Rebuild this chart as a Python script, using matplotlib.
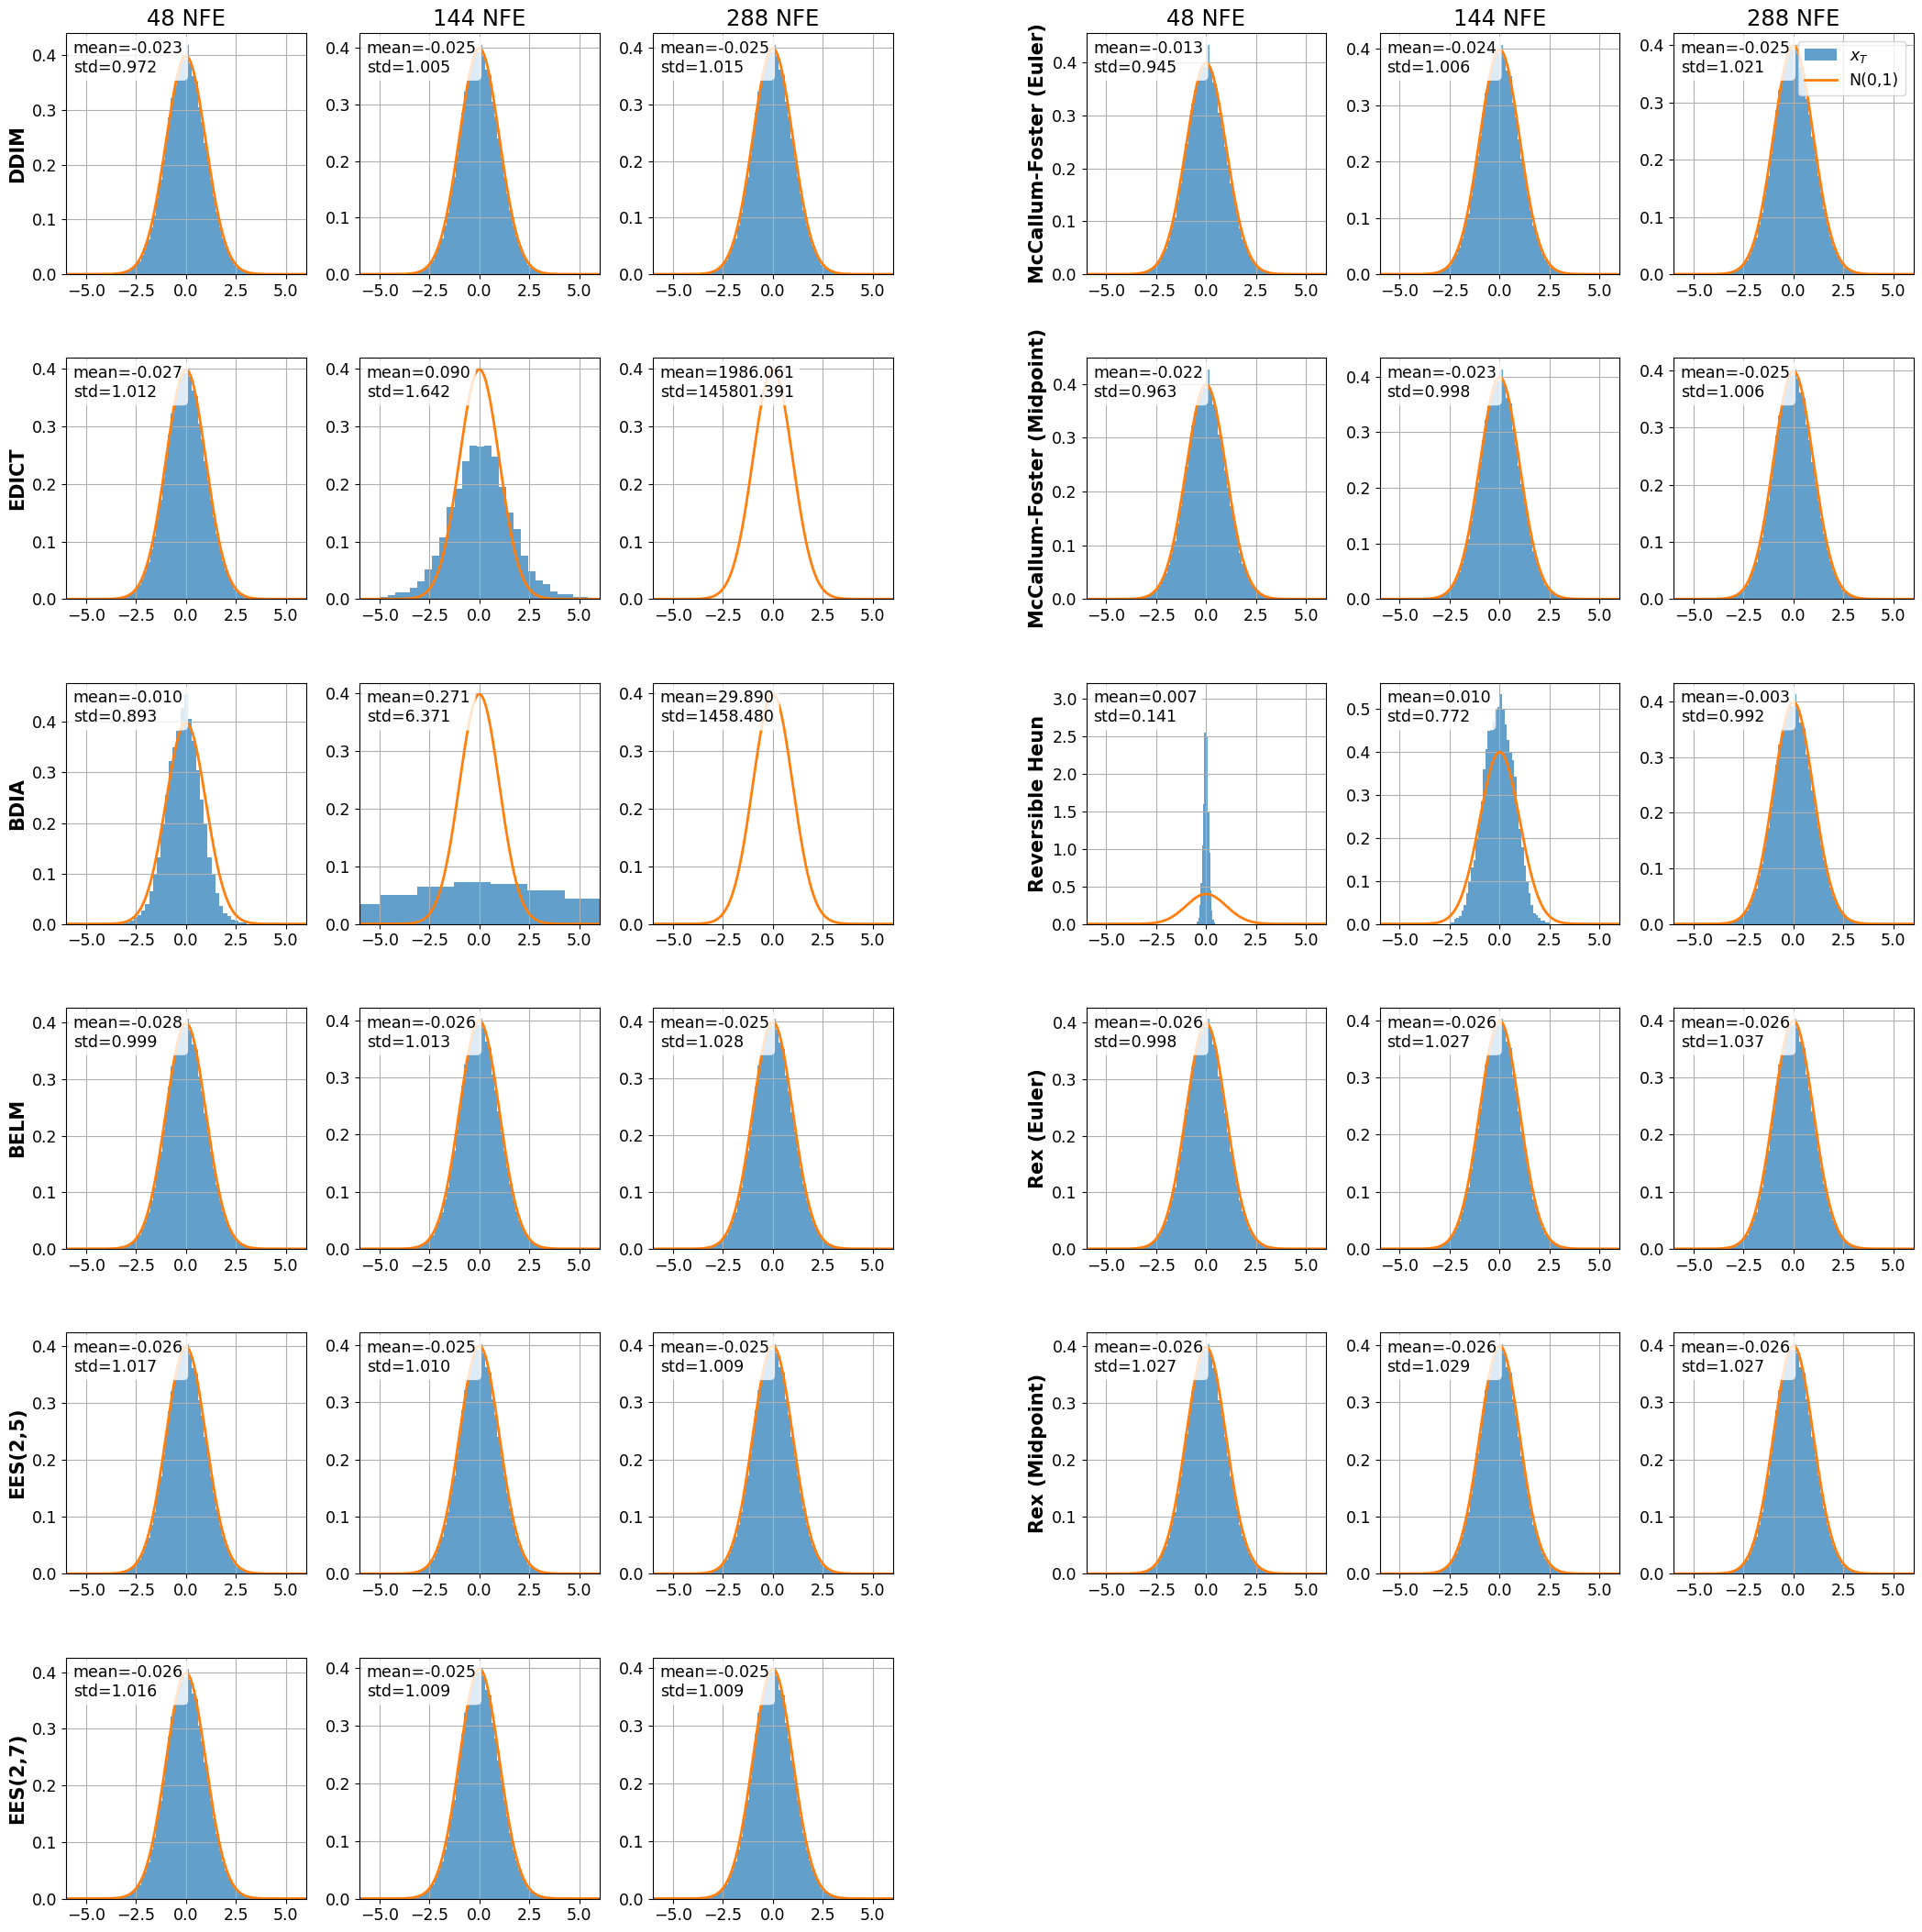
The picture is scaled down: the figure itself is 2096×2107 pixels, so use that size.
import numpy as np
import matplotlib
matplotlib.use('Agg')
import matplotlib.pyplot as plt

# ---------------- data ----------------
nfe_labels = ['48 NFE', '144 NFE', '288 NFE']
left_methods = ['DDIM', 'EDICT', 'BDIA', 'BELM', 'EES(2,5)', 'EES(2,7)']
right_methods = ['McCallum-Foster (Euler)', 'McCallum-Foster (Midpoint)',
                 'Reversible Heun', 'Rex (Euler)', 'Rex (Midpoint)']

left_means = [[-0.023, -0.025, -0.025],
              [-0.027, 0.090, 1986.061],
              [-0.010, 0.271, 29.890],
              [-0.028, -0.026, -0.025],
              [-0.026, -0.025, -0.025],
              [-0.026, -0.025, -0.025]]
left_stds = [[0.972, 1.005, 1.015],
             [1.012, 1.642, 145801.391],
             [0.893, 6.371, 1458.480],
             [0.999, 1.013, 1.028],
             [1.017, 1.010, 1.009],
             [1.016, 1.009, 1.009]]
right_means = [[-0.013, -0.024, -0.025],
               [-0.022, -0.023, -0.025],
               [0.007, 0.010, -0.003],
               [-0.026, -0.026, -0.026],
               [-0.026, -0.026, -0.026]]
right_stds = [[0.945, 1.006, 1.021],
              [0.963, 0.998, 1.006],
              [0.141, 0.772, 0.992],
              [0.998, 1.027, 1.037],
              [1.027, 1.029, 1.027]]

# typical near-N(0,1) histogram (bin width 0.15, from -3.6 to 3.6)
std_first_edge = -3.6
std_bin_width = 0.15
std_left = [0.001, 0.002, 0.003, 0.004, 0.006, 0.009, 0.012, 0.017, 0.024, 0.036,
            0.048, 0.064, 0.086, 0.108, 0.140, 0.172, 0.210, 0.246, 0.286, 0.322,
            0.346, 0.372, 0.384, 0.392]
std_right = [0.386, 0.362, 0.352, 0.305, 0.278, 0.240, 0.206, 0.172, 0.142, 0.114,
             0.086, 0.066, 0.050, 0.036, 0.026, 0.017, 0.012, 0.008, 0.005, 0.003,
             0.002, 0.001, 0.001]
# tallest (central) bar of each typical panel; None = special / empty panel
left_peaks = [[0.420, 0.406, 0.406],
              [0.395, None, None],
              [None, None, None],
              [0.406, 0.402, 0.404],
              [0.404, 0.402, 0.402],
              [0.406, 0.396, 0.396]]
right_peaks = [[0.434, 0.408, 0.401],
               [0.427, 0.413, 0.402],
               [None, None, 0.413],
               [0.406, 0.402, 0.402],
               [0.404, 0.402, 0.402]]

# special histograms: (first bin edge, bin width, heights)
edict_144 = (-6.06, 0.37,
             [0.001, 0.001, 0.002, 0.003, 0.007, 0.011, 0.011, 0.020, 0.031, 0.051,
              0.076, 0.107, 0.159, 0.192, 0.240, 0.266, 0.265, 0.266, 0.247, 0.195,
              0.150, 0.121, 0.076, 0.049, 0.033, 0.026, 0.014, 0.008, 0.008, 0.004,
              0.004, 0.002, 0.002])
bdia_48 = (-3.21, 0.195,
           [0.001, 0.003, 0.007, 0.013, 0.018, 0.026, 0.040, 0.065, 0.099, 0.131,
            0.200, 0.255, 0.322, 0.350, 0.383, 0.428, 0.455, 0.407, 0.362, 0.304,
            0.246, 0.200, 0.131, 0.097, 0.061, 0.035, 0.021, 0.015, 0.009, 0.006,
            0.003, 0.002])
bdia_144 = (-6.83, 1.85, [0.035, 0.051, 0.065, 0.072, 0.070, 0.059, 0.044])
revheun_48 = (-0.45, 0.06,
              [0.03, 0.08, 0.25, 0.55, 1.05, 1.60, 2.55, 3.06, 2.50, 1.50, 0.95,
               0.45, 0.18, 0.06, 0.02])
revheun_144 = (-2.52, 0.12,
               [0.004, 0.004, 0.011, 0.015, 0.018, 0.031, 0.043, 0.071, 0.100, 0.132,
                0.149, 0.199, 0.242, 0.284, 0.359, 0.405, 0.448, 0.450, 0.470, 0.498,
                0.504, 0.533, 0.499, 0.464, 0.427, 0.398, 0.380, 0.341, 0.270, 0.220,
                0.178, 0.135, 0.100, 0.071, 0.043, 0.025, 0.020, 0.014, 0.007, 0.007,
                0.003, 0.003])
special = {('L', 1, 1): edict_144, ('L', 2, 0): bdia_48, ('L', 2, 1): bdia_144,
           ('R', 2, 0): revheun_48, ('R', 2, 1): revheun_144}

# ---------------- figure ----------------
W, H = 2096, 2107
fig = plt.figure(figsize=(W / 100, H / 100), dpi=100)

FS = 12.5
plt.rcParams['xtick.labelsize'] = FS
plt.rcParams['ytick.labelsize'] = FS

col_left_px = [72, 392, 712, 1184.5, 1504.7, 1825]
ax_w_px, ax_h_px = 261.5, 263
row_top_px0, row_pitch_px = 36, 354.3

xg = np.linspace(-6, 6, 600)
pdf = np.exp(-xg ** 2 / 2) / np.sqrt(2 * np.pi)


def hist_from(ax, first_edge, width, heights):
    n = len(heights)
    edges = first_edge + width * np.arange(n + 1)
    centers = 0.5 * (edges[:-1] + edges[1:])
    ax.hist(centers, bins=edges, weights=heights, color='C0', alpha=0.7, label='$x_T$')


def draw_group(tag, methods, means, stds, peaks, col_offset):
    for r, name in enumerate(methods):
        for c in range(3):
            left = col_left_px[col_offset + c] / W
            top = row_top_px0 + r * row_pitch_px
            bottom = (H - top - ax_h_px) / H
            ax = fig.add_axes([left, bottom, ax_w_px / W, ax_h_px / H])
            key = (tag, r, c)
            has_hist = True
            if key in special:
                hist_from(ax, *special[key])
            elif peaks[r][c] is not None:
                heights = std_left + [peaks[r][c]] + std_right
                hist_from(ax, std_first_edge, std_bin_width, heights)
            else:
                has_hist = False
            ax.plot(xg, pdf, color='C1', lw=2, label='N(0,1)')
            ax.set_xlim(-6, 6)
            if not has_hist:
                ax.set_ylim(bottom=0)
            ax.grid(True)
            ax.text(0.03, 0.97, 'mean={:.3f}\nstd={:.3f}'.format(means[r][c], stds[r][c]),
                    transform=ax.transAxes, va='top', ha='left', fontsize=FS,
                    bbox=dict(boxstyle='round', facecolor='white', alpha=0.8, edgecolor='none'))
            if r == 0:
                ax.set_title(nfe_labels[c], fontsize=17.5)
            if c == 0:
                ax.set_ylabel(name, fontsize=15, fontweight='bold')
            if tag == 'R' and r == 0 and c == 2:
                ax.legend(loc='upper right', fontsize=FS)


draw_group('L', left_methods, left_means, left_stds, left_peaks, 0)
draw_group('R', right_methods, right_means, right_stds, right_peaks, 3)

fig.savefig('out.png', dpi=100)
